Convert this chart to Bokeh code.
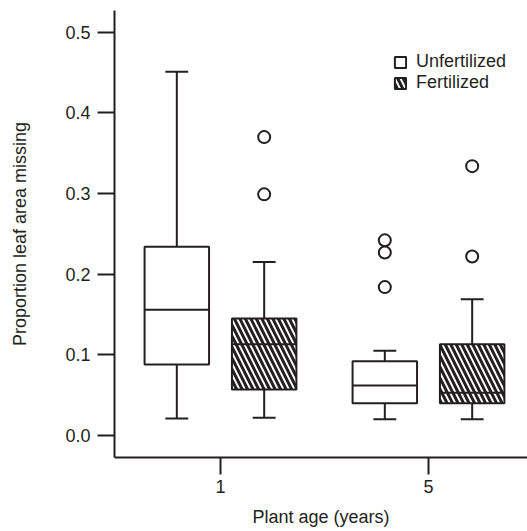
from bokeh.plotting import figure
from bokeh.models import FixedTicker, NumeralTickFormatter, Range1d, ColumnDataSource, Legend, LegendItem
from bokeh.embed import file_html
from bokeh.resources import INLINE

# ---- data ----
ages = ["1", "5"]
groups = ["Unfertilized", "Fertilized"]
# per age: [age 1, age 5]
q1 = {"Unfertilized": [0.088, 0.040], "Fertilized": [0.057, 0.040]}
median = {"Unfertilized": [0.156, 0.062], "Fertilized": [0.113, 0.053]}
q3 = {"Unfertilized": [0.234, 0.092], "Fertilized": [0.145, 0.113]}
whisk_lo = {"Unfertilized": [0.021, 0.020], "Fertilized": [0.022, 0.020]}
whisk_hi = {"Unfertilized": [0.451, 0.105], "Fertilized": [0.215, 0.169]}
outliers = {
    "Unfertilized": [[], [0.242, 0.227, 0.184]],
    "Fertilized": [[0.370, 0.299], [0.334, 0.222]],
}
y_ticks = [0.0, 0.1, 0.2, 0.3, 0.4, 0.5]

# ---- style ----
INK = "#231f20"
FONT = "Liberation Sans"
FS = "18px"
offsets = {"Unfertilized": -0.21, "Fertilized": 0.21}
hatch = {"Unfertilized": None, "Fertilized": "left_diagonal_line"}
box_w = 0.31
cap_w = 0.11

p = figure(width=527, height=531, output_backend="svg", toolbar_location=None,
           x_range=Range1d(-0.5096, 1.476), y_range=Range1d(-0.0273, 0.527),
           min_border_left=114, min_border_right=0, min_border_top=10, min_border_bottom=74)
p.outline_line_color = None
p.xgrid.visible = False
p.ygrid.visible = False

items = []
for g in groups:
    xs = [i + offsets[g] for i in range(len(ages))]
    src = ColumnDataSource(dict(
        left=[x - box_w / 2 for x in xs], right=[x + box_w / 2 for x in xs],
        bottom=q1[g], top=q3[g], x=xs,
        cl=[x - cap_w / 2 for x in xs], cr=[x + cap_w / 2 for x in xs],
        med=median[g], lo=whisk_lo[g], hi=whisk_hi[g],
    ))
    # whiskers
    p.segment(x0="x", y0="top", x1="x", y1="hi", source=src, line_color=INK, line_width=2)
    p.segment(x0="x", y0="bottom", x1="x", y1="lo", source=src, line_color=INK, line_width=2)
    p.segment(x0="cl", y0="hi", x1="cr", y1="hi", source=src, line_color=INK, line_width=2)
    p.segment(x0="cl", y0="lo", x1="cr", y1="lo", source=src, line_color=INK, line_width=2)
    kw = dict(fill_color="white", line_color=INK, line_width=2)
    if hatch[g]:
        kw.update(hatch_pattern=hatch[g], hatch_color=INK, hatch_scale=11, hatch_weight=3)
    r = p.quad(left="left", right="right", bottom="bottom", top="top", source=src, **kw)
    items.append(LegendItem(label=g, renderers=[r]))
    p.segment(x0="left", y0="med", x1="right", y1="med", source=src, line_color=INK, line_width=2)
    ox, oy = [], []
    for i, vals in enumerate(outliers[g]):
        for v in vals:
            ox.append(xs[i])
            oy.append(v)
    p.scatter(ox, oy, marker="circle", size=12, fill_color="white", line_color=INK, line_width=2)

legend = Legend(items=items, location=(279, 364), padding=0, margin=0, spacing=0,
                glyph_width=14, glyph_height=14, label_standoff=9,
                label_text_font=FONT, label_text_font_size=FS, label_text_color=INK,
                border_line_alpha=0, background_fill_alpha=0)
p.add_layout(legend, "center")

for ax in (p.xaxis[0], p.yaxis[0]):
    ax.axis_line_color = INK
    ax.axis_line_width = 2
    ax.major_tick_line_color = INK
    ax.major_tick_line_width = 2
    ax.major_tick_in = 0
    ax.major_tick_out = 17
    ax.minor_tick_line_color = None
    ax.major_label_text_font = FONT
    ax.major_label_text_font_size = FS
    ax.major_label_text_color = INK
    ax.axis_label_text_font = FONT
    ax.axis_label_text_font_size = FS
    ax.axis_label_text_font_style = "normal"
    ax.axis_label_text_color = INK

p.xaxis.ticker = FixedTicker(ticks=list(range(len(ages))))
p.xaxis.major_label_overrides = {i: a for i, a in enumerate(ages)}
p.xaxis.axis_label = "Plant age (years)"
p.xaxis.major_label_standoff = 5
p.xaxis.axis_label_standoff = 11

p.yaxis.ticker = FixedTicker(ticks=y_ticks)
p.yaxis.formatter = NumeralTickFormatter(format="0.0")
p.yaxis.axis_label = "Proportion leaf area missing"
p.yaxis.major_label_standoff = 7
p.yaxis.axis_label_standoff = 32

open("out.html", "w").write(file_html(p, INLINE))
